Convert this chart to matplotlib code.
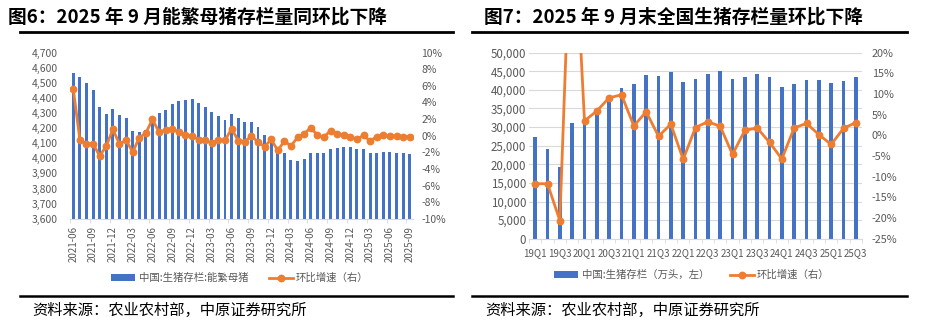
import numpy as np
import matplotlib
matplotlib.use("Agg")
import matplotlib.pyplot as plt
from matplotlib.patches import Patch
from matplotlib.lines import Line2D
from matplotlib.ticker import FuncFormatter, MultipleLocator

plt.rcParams['font.family'] = ['Noto Sans CJK SC', 'DejaVu Sans']
plt.rcParams['axes.unicode_minus'] = False

# ---------------- data: left chart (monthly) ----------------
months = [f"{y}-{m:02d}" for y in range(2021, 2026) for m in range(1, 13)]
months = months[months.index("2021-06"):months.index("2025-09") + 1]
sows = [4563, 4540, 4497, 4455, 4342, 4294, 4327, 4287, 4265, 4181,
        4172, 4188, 4254, 4298, 4320, 4360, 4382, 4387, 4391, 4366,
        4342, 4304, 4282, 4256, 4294, 4269, 4239, 4239, 4208, 4155,
        4125, 4062, 4038, 3989, 3984, 3995, 4033, 4038, 4033, 4062,
        4069, 4077, 4075, 4062, 4064, 4038, 4033, 4040, 4040, 4038,
        4033, 4031]
sows_mom = [5.6, -0.52, -0.96, -0.96, -2.45, -1.24, 0.76, -1.0, -0.52, -1.97,
            -0.24, 0.32, 1.97, 0.44, 0.66, 0.86, 0.44, 0.14, -0.04, -0.46,
            -0.52, -0.92, -0.52, -0.56, 0.84, -0.58, -0.7, -0.06, -0.74, -1.33,
            -0.44, -1.78, -0.64, -1.24, -0.2, 0.22, 0.98, 0.06, -0.16, 0.62,
            0.24, 0.12, -0.12, -0.42, 0.04, -0.64, -0.1, 0.04, 0.0, -0.04,
            -0.12, -0.12]

# ---------------- data: right chart (quarterly) ----------------
quarters = [f"{y}Q{q}" for y in range(19, 26) for q in range(1, 5)][:27]
hogs = [27400, 24200, 19200, 31050, 31700, 33700, 37400, 40600, 41600, 44000,
        43750, 44900, 42200, 43050, 44350, 45200, 43050, 43550, 44200, 43350,
        40700, 41500, 42650, 42700, 41750, 42400, 43600]
hogs_mom = [-11.7, -11.7, -20.6, 61.7, 3.5, 5.9, 9.1, 9.8, 2.3, 5.7,
            -0.2, 2.7, -5.8, 1.9, 3.3, 2.2, -4.6, 1.2, 1.8, -1.7,
            -5.7, 1.8, 2.9, 0.2, -2.2, 1.7, 3.1]

left_title = "图6：2025 年 9 月能繁母猪存栏量同环比下降"
right_title = "图7：2025 年 9 月末全国生猪存栏量环比下降"
source = "资料来源：农业农村部，中原证券研究所"
left_bar_label = "中国:生猪存栏:能繁母猪"
right_bar_label = "中国:生猪存栏（万头，左）"
line_label = "环比增速（右）"

BLUE = "#4472C4"
ORANGE = "#ED7D31"
GREY_TXT = "#595959"
GRID = "#d9d9d9"

W, H = 936, 324
fig = plt.figure(figsize=(W / 100, H / 100), dpi=100)


def fx(px):
    return px / W


def fy(py):
    return 1 - py / H


def style_common(ax, ax2):
    for a in (ax, ax2):
        for s in ("top", "left", "right"):
            a.spines[s].set_visible(False)
        a.spines["bottom"].set_color(GRID)
        a.tick_params(axis="y", length=0, labelsize=7.5, labelcolor=GREY_TXT)
    ax2.spines["bottom"].set_visible(False)


# ---------------- left chart ----------------
axL = fig.add_axes([fx(70), fy(218.7), fx(413 - 70), (218.7 - 52.7) / H])
xL = np.arange(len(months))
axL.bar(xL, sows, width=0.45, color=BLUE, zorder=2)
axL.set_ylim(3600, 4700)
axL.yaxis.set_major_locator(MultipleLocator(100))
axL.yaxis.set_major_formatter(FuncFormatter(lambda v, p: f"{v:,.0f}"))
axL.set_xlim(-0.5, len(months) - 0.5)
axL.set_xticks(xL[::3])
axL.set_xticklabels(months[::3], rotation=90, fontsize=7, color=GREY_TXT)
axL.set_xticks(xL[::3] - 0.5, minor=True)
axL.tick_params(axis="x", which="major", length=0, pad=5)
axL.tick_params(axis="x", which="minor", length=3, color=GRID)
axL2 = axL.twinx()
axL2.plot(xL, sows_mom, color=ORANGE, lw=2.0, marker="o", ms=4.6, zorder=3)
axL2.set_ylim(-10, 10)
axL2.yaxis.set_major_locator(MultipleLocator(2))
axL2.yaxis.set_major_formatter(FuncFormatter(lambda v, p: f"{v:.0f}%"))
style_common(axL, axL2)
axL.tick_params(axis="y", pad=9)
axL2.tick_params(axis="y", pad=6)

# ---------------- right chart ----------------
axR = fig.add_axes([fx(529), fy(238.7), fx(862 - 529), (238.7 - 52.7) / H])
xR = np.arange(len(quarters))
axR.bar(xR, hogs, width=0.3, color=BLUE, zorder=2)
axR.set_ylim(0, 50000)
axR.yaxis.set_major_locator(MultipleLocator(5000))
axR.yaxis.set_major_formatter(FuncFormatter(lambda v, p: f"{v:,.0f}"))
axR.grid(axis="y", color=GRID, lw=0.8, zorder=0)
axR.set_axisbelow(True)
axR.set_xlim(-0.5, len(quarters) - 0.5)
axR.set_xticks(xR[::2])
axR.set_xticklabels(quarters[::2], fontsize=7, color=GREY_TXT)
axR.set_xticks(np.arange(len(quarters) + 1) - 0.5, minor=True)
axR.tick_params(axis="x", which="major", length=0, pad=7)
axR.tick_params(axis="x", which="minor", length=3, color=GRID)
axR2 = axR.twinx()
axR2.plot(xR, hogs_mom, color=ORANGE, lw=2.0, marker="o", ms=4.6, zorder=3)
axR2.set_ylim(-25, 20)
axR2.yaxis.set_major_locator(MultipleLocator(5))
axR2.yaxis.set_major_formatter(FuncFormatter(lambda v, p: f"{v:.0f}%"))
style_common(axR, axR2)
axR.tick_params(axis="y", pad=2, labelsize=8.3)
axR2.tick_params(axis="y", pad=7, labelsize=7.8)

# ---------------- legends ----------------
def legend(center_x, center_y, bar_label):
    handles = [Patch(facecolor=BLUE, edgecolor="none"),
               Line2D([0], [0], color=ORANGE, lw=2.0, marker="o", ms=4.6)]
    fig.legend(handles, [bar_label, line_label], loc="center",
               bbox_to_anchor=(fx(center_x), fy(center_y)), ncol=2,
               frameon=False, fontsize=7.5, handlelength=2.3,
               handleheight=0.6, columnspacing=2.0, handletextpad=0.3,
               labelcolor=GREY_TXT)


legend(240, 278, left_bar_label)
legend(692, 275, right_bar_label)

# ---------------- titles, rules, source ----------------
fig.text(fx(8), fy(17), left_title, fontsize=13.5, fontweight="bold",
         va="center", ha="left")
fig.text(fx(484), fy(17), right_title, fontsize=13.5, fontweight="bold",
         va="center", ha="left")
for x0, x1 in ((20, 453), (472, 907)):
    fig.add_artist(Line2D([fx(x0), fx(x1)], [fy(31.5), fy(31.5)],
                          color="black", lw=2.0, transform=fig.transFigure))
    fig.add_artist(Line2D([fx(x0), fx(x1)], [fy(296), fy(296)],
                          color="black", lw=1.8, transform=fig.transFigure))
fig.text(fx(32), fy(310), source, fontsize=11, va="center", ha="left")
fig.text(fx(485), fy(310), source, fontsize=11, va="center", ha="left")

fig.savefig("out.png", dpi=100)
